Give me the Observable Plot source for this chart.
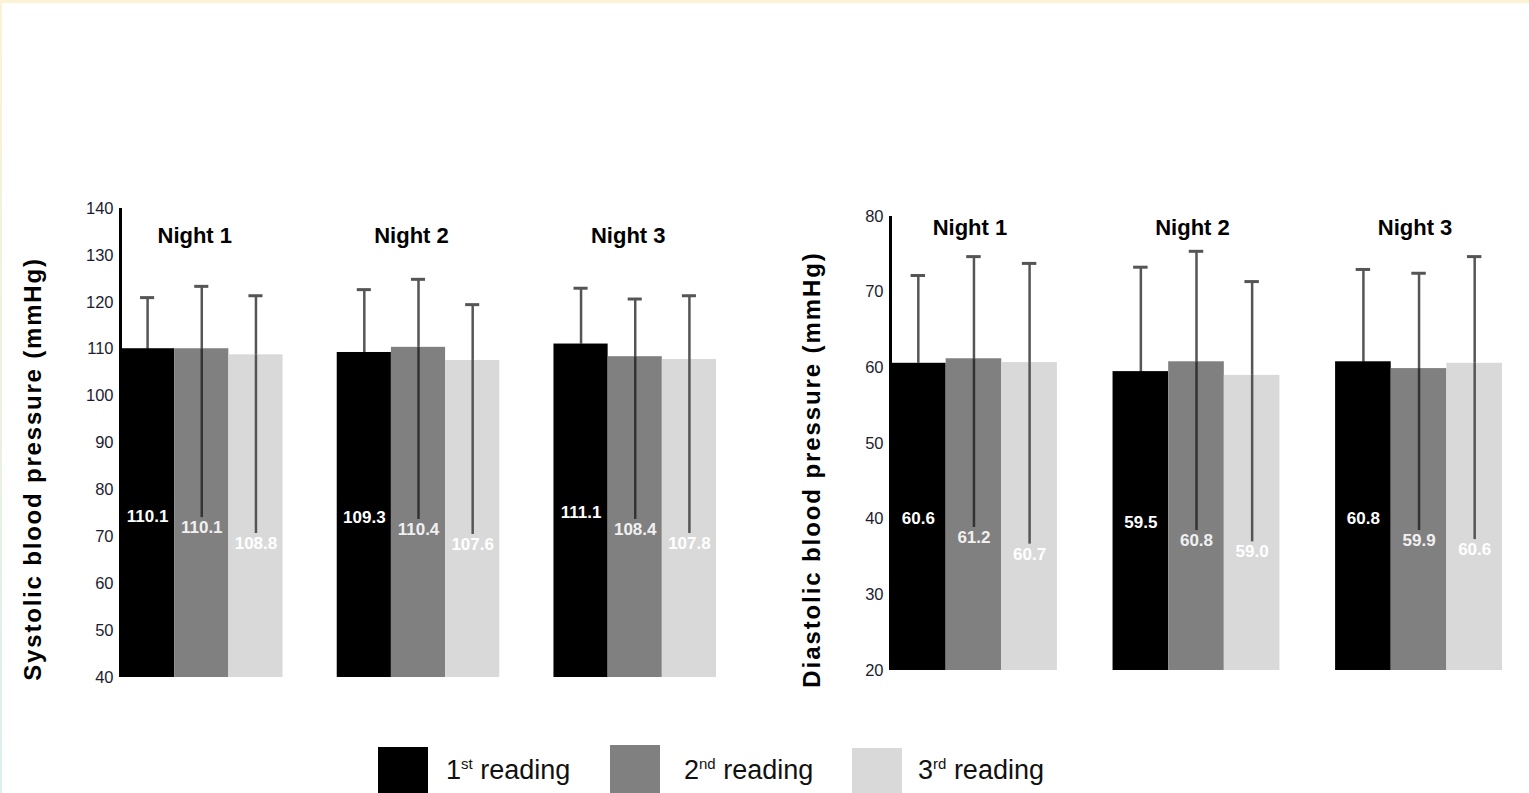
<!DOCTYPE html>
<html>
<head>
<meta charset="utf-8">
<script src="https://cdn.jsdelivr.net/npm/d3@7"></script>
<script src="https://cdn.jsdelivr.net/npm/@observablehq/plot@0.6"></script>
<style>
  html, body { margin: 0; padding: 0; background: #ffffff; }
  body { width: 1529px; height: 793px; overflow: hidden; position: relative; font-family: "Liberation Sans", Arial, sans-serif; }
  #topband { position: absolute; left: 0; top: 0; width: 1529px; height: 3px; background: #fbf3d3; }
  #leftband { position: absolute; left: 0; top: 0; width: 2px; height: 793px; background: linear-gradient(#fbf3d3, #dcefef); }
  #left { position: absolute; left: 0; top: 0; }
  #right { position: absolute; left: 770px; top: 0; }
  .lg-sq { position: absolute; width: 50px; height: 50px; }
  .lg-tx { position: absolute; font-size: 27px; color: #111; white-space: nowrap; line-height: 1; }
  .lg-tx sup { font-size: 15px; vertical-align: 0; position: relative; top: -10px; }
</style>
</head>
<body>
<div id="topband"></div>
<div id="leftband"></div>
<div id="left"></div>
<div id="right"></div>
<div id="legend"></div>
<script>
// ---- data ----
const nights = ["Night 1", "Night 2", "Night 3"];
const readings = ["1st", "2nd", "3rd"];
const readingSup = ["st", "nd", "rd"];
const readingNum = ["1", "2", "3"];

const sysMean  = [[110.1, 110.1, 108.8], [109.3, 110.4, 107.6], [111.1, 108.4, 107.8]];
const sysUpper = [[121.0, 123.4, 121.4], [122.7, 124.9, 119.5], [123.0, 120.7, 121.4]];
const sysLower = [[76.5, 74.1, 70.7], [76.2, 73.7, 70.5], [77.3, 73.7, 70.7]];
const sysTicks = [40, 50, 60, 70, 80, 90, 100, 110, 120, 130, 140];

const diaMean  = [[60.6, 61.2, 60.7], [59.5, 60.8, 59.0], [60.8, 59.9, 60.6]];
const diaUpper = [[72.2, 74.7, 73.8], [73.3, 75.4, 71.4], [73.0, 72.5, 74.7]];
const diaLower = [[41.4, 38.9, 36.7], [40.9, 38.5, 37.0], [41.4, 38.5, 37.3]];
const diaTicks = [20, 30, 40, 50, 60, 70, 80];

// ---- styles ----
const barColors = ["#000000", "#808080", "#d9d9d9"];
const labelColors = ["#ffffff", "#f0f0f0", "#ffffff"];
const whiskerInner = ["#000000", "#333333", "#555555"];
const fontFamily = "'Liberation Sans', Arial, sans-serif";

function rowsFor(means, uppers, lowers) {
  const rows = [];
  nights.forEach((night, n) => {
    readings.forEach((reading, r) => {
      rows.push({night, reading, ri: r, slot: n * 4 + r,
        mean: means[n][r], upper: uppers[n][r], lower: lowers[n][r]});
    });
  });
  return rows;
}

function makeChart(o) {
  const rows = rowsFor(o.means, o.uppers, o.lowers);
  const yMin = o.ticks[0], yMax = o.ticks[o.ticks.length - 1];
  const cx = d => d.slot + 0.5;
  const cap = 0.13;
  const svg = Plot.plot({
    width: o.width, height: o.height,
    marginLeft: o.marginLeft, marginRight: o.marginRight,
    marginTop: o.marginTop, marginBottom: o.marginBottom,
    x: {domain: [0, 11], axis: null},
    y: {domain: [yMin, yMax], axis: null},
    color: {type: "identity"},
    style: {fontFamily, background: "transparent", overflow: "visible"},
    marks: [
      Plot.rectY(rows, {x1: d => d.slot, x2: d => d.slot + 1, y1: yMin, y2: "mean", fill: d => barColors[d.ri]}),
      Plot.ruleX(rows, {x: cx, y1: "lower", y2: "mean", stroke: d => whiskerInner[d.ri], strokeWidth: 2.5}),
      Plot.ruleX(rows, {x: cx, y1: "mean", y2: "upper", stroke: "#555555", strokeWidth: 2.5}),
      Plot.ruleY(rows, {y: "upper", x1: d => cx(d) - cap, x2: d => cx(d) + cap, stroke: "#555555", strokeWidth: 3}),
      Plot.text(rows, {x: cx, y: "lower", dy: 10, text: d => d.mean.toFixed(1),
        fill: d => labelColors[d.ri], fontWeight: "bold", fontSize: 17}),
      Plot.ruleX([0], {y1: yMin, y2: yMax, stroke: "#000", strokeWidth: 3}),
      Plot.axisY({ticks: o.ticks, tickSize: 0, tickPadding: 7, fontSize: 16.5, fill: "#1c1c30", label: null}),
      Plot.text(nights, {x: (d, i) => i * 4 + 1.5, frameAnchor: "top", dy: o.titleDy, dx: o.titleDx,
        text: d => d, fontWeight: "bold", fontSize: 22, fill: "#000"}),
      Plot.text([o.yLabel], {frameAnchor: "left", textAnchor: "middle", rotate: -90, dx: o.labelDx, dy: o.labelDy,
        text: d => d, fontWeight: "bold", fontSize: 24, fill: "#000"})
    ]
  });
  svg.querySelectorAll("text").forEach(t => {
    if (t.textContent === o.yLabel) t.style.letterSpacing = o.letterSpacing + "px";
  });
  return svg;
}

document.getElementById("left").append(makeChart({
  means: sysMean, uppers: sysUpper, lowers: sysLower, ticks: sysTicks,
  yLabel: "Systolic blood pressure (mmHg)",
  width: 770, height: 700, marginLeft: 120, marginRight: 54, marginTop: 208, marginBottom: 23,
  titleDy: 19, titleDx: -7, labelDx: -87, labelDy: 26, letterSpacing: 1.8
}));

document.getElementById("right").append(makeChart({
  means: diaMean, uppers: diaUpper, lowers: diaLower, ticks: diaTicks,
  yLabel: "Diastolic blood pressure (mmHg)",
  width: 759, height: 700, marginLeft: 120, marginRight: 27, marginTop: 216, marginBottom: 30,
  titleDy: 3, titleDx: -4, labelDx: -78, labelDy: 26, letterSpacing: 1.9
}));

// ---- legend (HTML, below the charts) ----
const legend = document.getElementById("legend");
const sqLeft = [378, 610, 852];
const sqTop = [747, 745, 748];
const txLeft = [446, 684, 918];
readings.forEach((r, i) => {
  const sq = document.createElement("div");
  sq.className = "lg-sq";
  sq.style.left = sqLeft[i] + "px";
  sq.style.top = sqTop[i] + "px";
  sq.style.background = barColors[i];
  legend.append(sq);
  const tx = document.createElement("div");
  tx.className = "lg-tx";
  tx.style.left = txLeft[i] + "px";
  tx.style.top = "757px";
  tx.innerHTML = readingNum[i] + "<sup>" + readingSup[i] + "</sup> reading";
  legend.append(tx);
});
</script>
</body>
</html>
